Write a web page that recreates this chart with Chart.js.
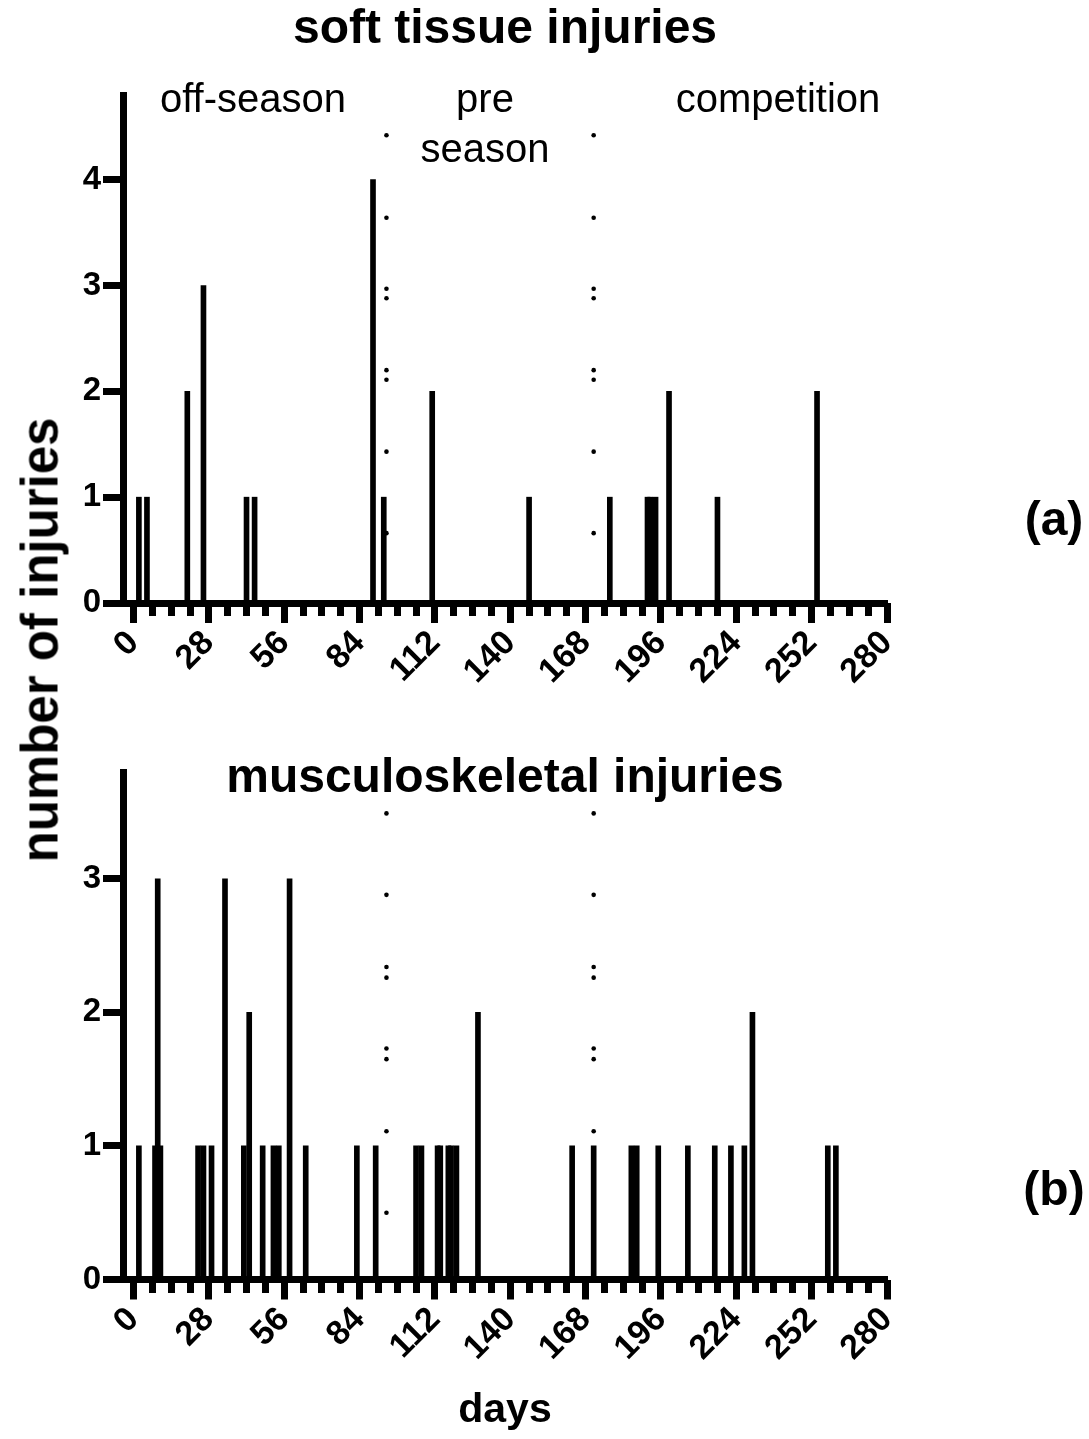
<!DOCTYPE html>
<html>
<head>
<meta charset="utf-8">
<script src="https://cdn.jsdelivr.net/npm/chart.js@4.4.0/dist/chart.umd.min.js"></script>
<style>
  body { margin: 0; background: #fff; }
  #page { position: relative; width: 1089px; height: 1439px; overflow: hidden; background: #fff;
          font-family: "Liberation Sans", Arial, sans-serif; color: #000; }
  .box { position: absolute; left: 0; }
  .txt { position: absolute; white-space: nowrap; line-height: 1; transform: translateX(-50%); }
  .bold { font-weight: bold; }
</style>
</head>
<body>
<div id="page">
  <div class="box" style="top:0"><canvas id="softChart" width="1089" height="700"></canvas></div>
  <div class="box" style="top:700px"><canvas id="muscChart" width="1089" height="739"></canvas></div>

  <div class="txt bold" style="left:505px;top:3px;font-size:48px">soft tissue injuries</div>
  <div class="txt" style="left:253px;top:78px;font-size:40px">off-season</div>
  <div class="txt" style="left:485px;top:78px;font-size:40px">pre</div>
  <div class="txt" style="left:485px;top:128px;font-size:40px">season</div>
  <div class="txt" style="left:778px;top:78px;font-size:40px">competition</div>
  <div class="txt bold" style="left:1054px;top:495px;font-size:48px">(a)</div>

  <div class="txt bold" style="left:505px;top:752px;font-size:48px">musculoskeletal injuries</div>
  <div class="txt bold" style="left:1054px;top:1165px;font-size:48px">(b)</div>
  <div class="txt bold" style="left:505px;top:1388px;font-size:41px">days</div>

  <div class="txt bold" style="left:40px;top:640px;font-size:51px;transform:translate(-50%,-50%) rotate(-90deg)">number of injuries</div>
</div>

<script>
// x axis (days)
const DAY_MIN = -3.9;
const DAY_MAX = 280;
const DAY_TICKS = [0, 28, 56, 84, 112, 140, 168, 196, 224, 252, 280];
const WEEK_TICKS = Array.from({ length: 41 }, (_, i) => i * 7);

// season boundaries (dotted lines)
const DIVIDER_DAYS = [94, 171];

// (a) soft tissue injuries
const softDays   = [2, 5, 20, 26, 42, 45, 89, 93, 111, 147, 177, 191, 192, 194, 199, 217, 254];
const softCounts = [1, 1, 2, 3, 1, 1, 4, 1, 2, 1, 1, 1, 1, 1, 2, 1, 2];
const softYTicks = [0, 1, 2, 3, 4];
const softYMax = 4.8;
const softDotLevels = [4.42, 3.64, 2.97, 2.88, 2.2, 2.11, 1.43, 0.66];

// (b) musculoskeletal injuries
const muscDays   = [2, 8, 9, 10, 24, 26, 29, 34, 41, 43, 48, 52, 54, 58, 64, 83, 90, 105, 107,
                    113, 114, 117, 118, 120, 128, 163, 171, 185, 187, 195, 206, 216, 222, 227, 230, 258, 261];
const muscCounts = [1, 1, 3, 1, 1, 1, 1, 3, 1, 2, 1, 1, 1, 3, 1, 1, 1, 1, 1,
                    1, 1, 1, 1, 1, 2, 1, 1, 1, 1, 1, 1, 1, 1, 1, 2, 1, 1];
const muscYTicks = [0, 1, 2, 3];
const muscYMax = 3.8;
const muscDotLevels = [3.49, 2.88, 2.34, 2.26, 1.73, 1.65, 1.11, 0.5];

const FONT = "'Liberation Sans', Arial, sans-serif";
Chart.defaults.font.family = FONT;
Chart.defaults.color = '#000';

function buildChart(canvasId, days, counts, yMax, yTicks, dotLevels, padTop, xAxisHeight) {
    const bars = days.map((d, i) => ({ x: d, y: counts[i] }));
    const dots = [];
    DIVIDER_DAYS.forEach(d => dotLevels.forEach(v => dots.push({ x: d, y: v })));

    return new Chart(document.getElementById(canvasId), {
        type: 'bar',
        data: {
            datasets: [
                {
                    type: 'scatter',
                    data: dots,
                    pointRadius: 2.3,
                    pointBackgroundColor: '#000',
                    pointBorderWidth: 0,
                    xAxisID: 'x',
                    yAxisID: 'y'
                },
                {
                    data: bars,
                    backgroundColor: '#000',
                    barThickness: 5,
                    borderWidth: 0,
                    xAxisID: 'x',
                    yAxisID: 'y'
                }
            ]
        },
        options: {
            responsive: false,
            animation: false,
            layout: { padding: { top: padTop, right: 202, bottom: 0, left: 0 } },
            plugins: { legend: { display: false }, title: { display: false }, tooltip: { enabled: false } },
            scales: {
                x: {
                    type: 'linear',
                    position: 'bottom',
                    offset: false,
                    min: DAY_MIN,
                    max: DAY_MAX,
                    afterBuildTicks: s => { s.ticks = DAY_TICKS.map(v => ({ value: v })); },
                    afterFit: s => { s.height = xAxisHeight; },
                    ticks: {
                        minRotation: 45,
                        maxRotation: 45,
                        padding: 0,
                        autoSkip: false,
                        font: { size: 34, weight: 'bold' },
                        color: '#000'
                    },
                    grid: { offset: false, drawOnChartArea: false, tickLength: 20, tickWidth: 7, tickColor: '#000' },
                    border: { display: true, width: 7, color: '#000' }
                },
                xMinor: {
                    type: 'linear',
                    position: { y: 0 },
                    offset: false,
                    min: DAY_MIN,
                    max: DAY_MAX,
                    afterBuildTicks: s => { s.ticks = WEEK_TICKS.map(v => ({ value: v })); },
                    afterFit: s => { s.height = 0; },
                    ticks: { display: false },
                    grid: { offset: false, drawOnChartArea: false, tickLength: 13, tickWidth: 7, tickColor: '#000' },
                    border: { display: false }
                },
                y: {
                    min: 0,
                    max: yMax,
                    afterBuildTicks: s => { s.ticks = yTicks.map(v => ({ value: v })); },
                    afterFit: s => { s.width = 123; },
                    ticks: { padding: 2, font: { size: 33, weight: 'bold' }, color: '#000' },
                    grid: { drawOnChartArea: false, tickLength: 20, tickWidth: 7, tickColor: '#000' },
                    border: { display: true, width: 7, color: '#000' }
                }
            }
        }
    });
}

buildChart('softChart', softDays, softCounts, softYMax, softYTicks, softDotLevels, 95, 97);
buildChart('muscChart', muscDays, muscCounts, muscYMax, muscYTicks, muscDotLevels, 72, 159.5);
</script>
</body>
</html>
